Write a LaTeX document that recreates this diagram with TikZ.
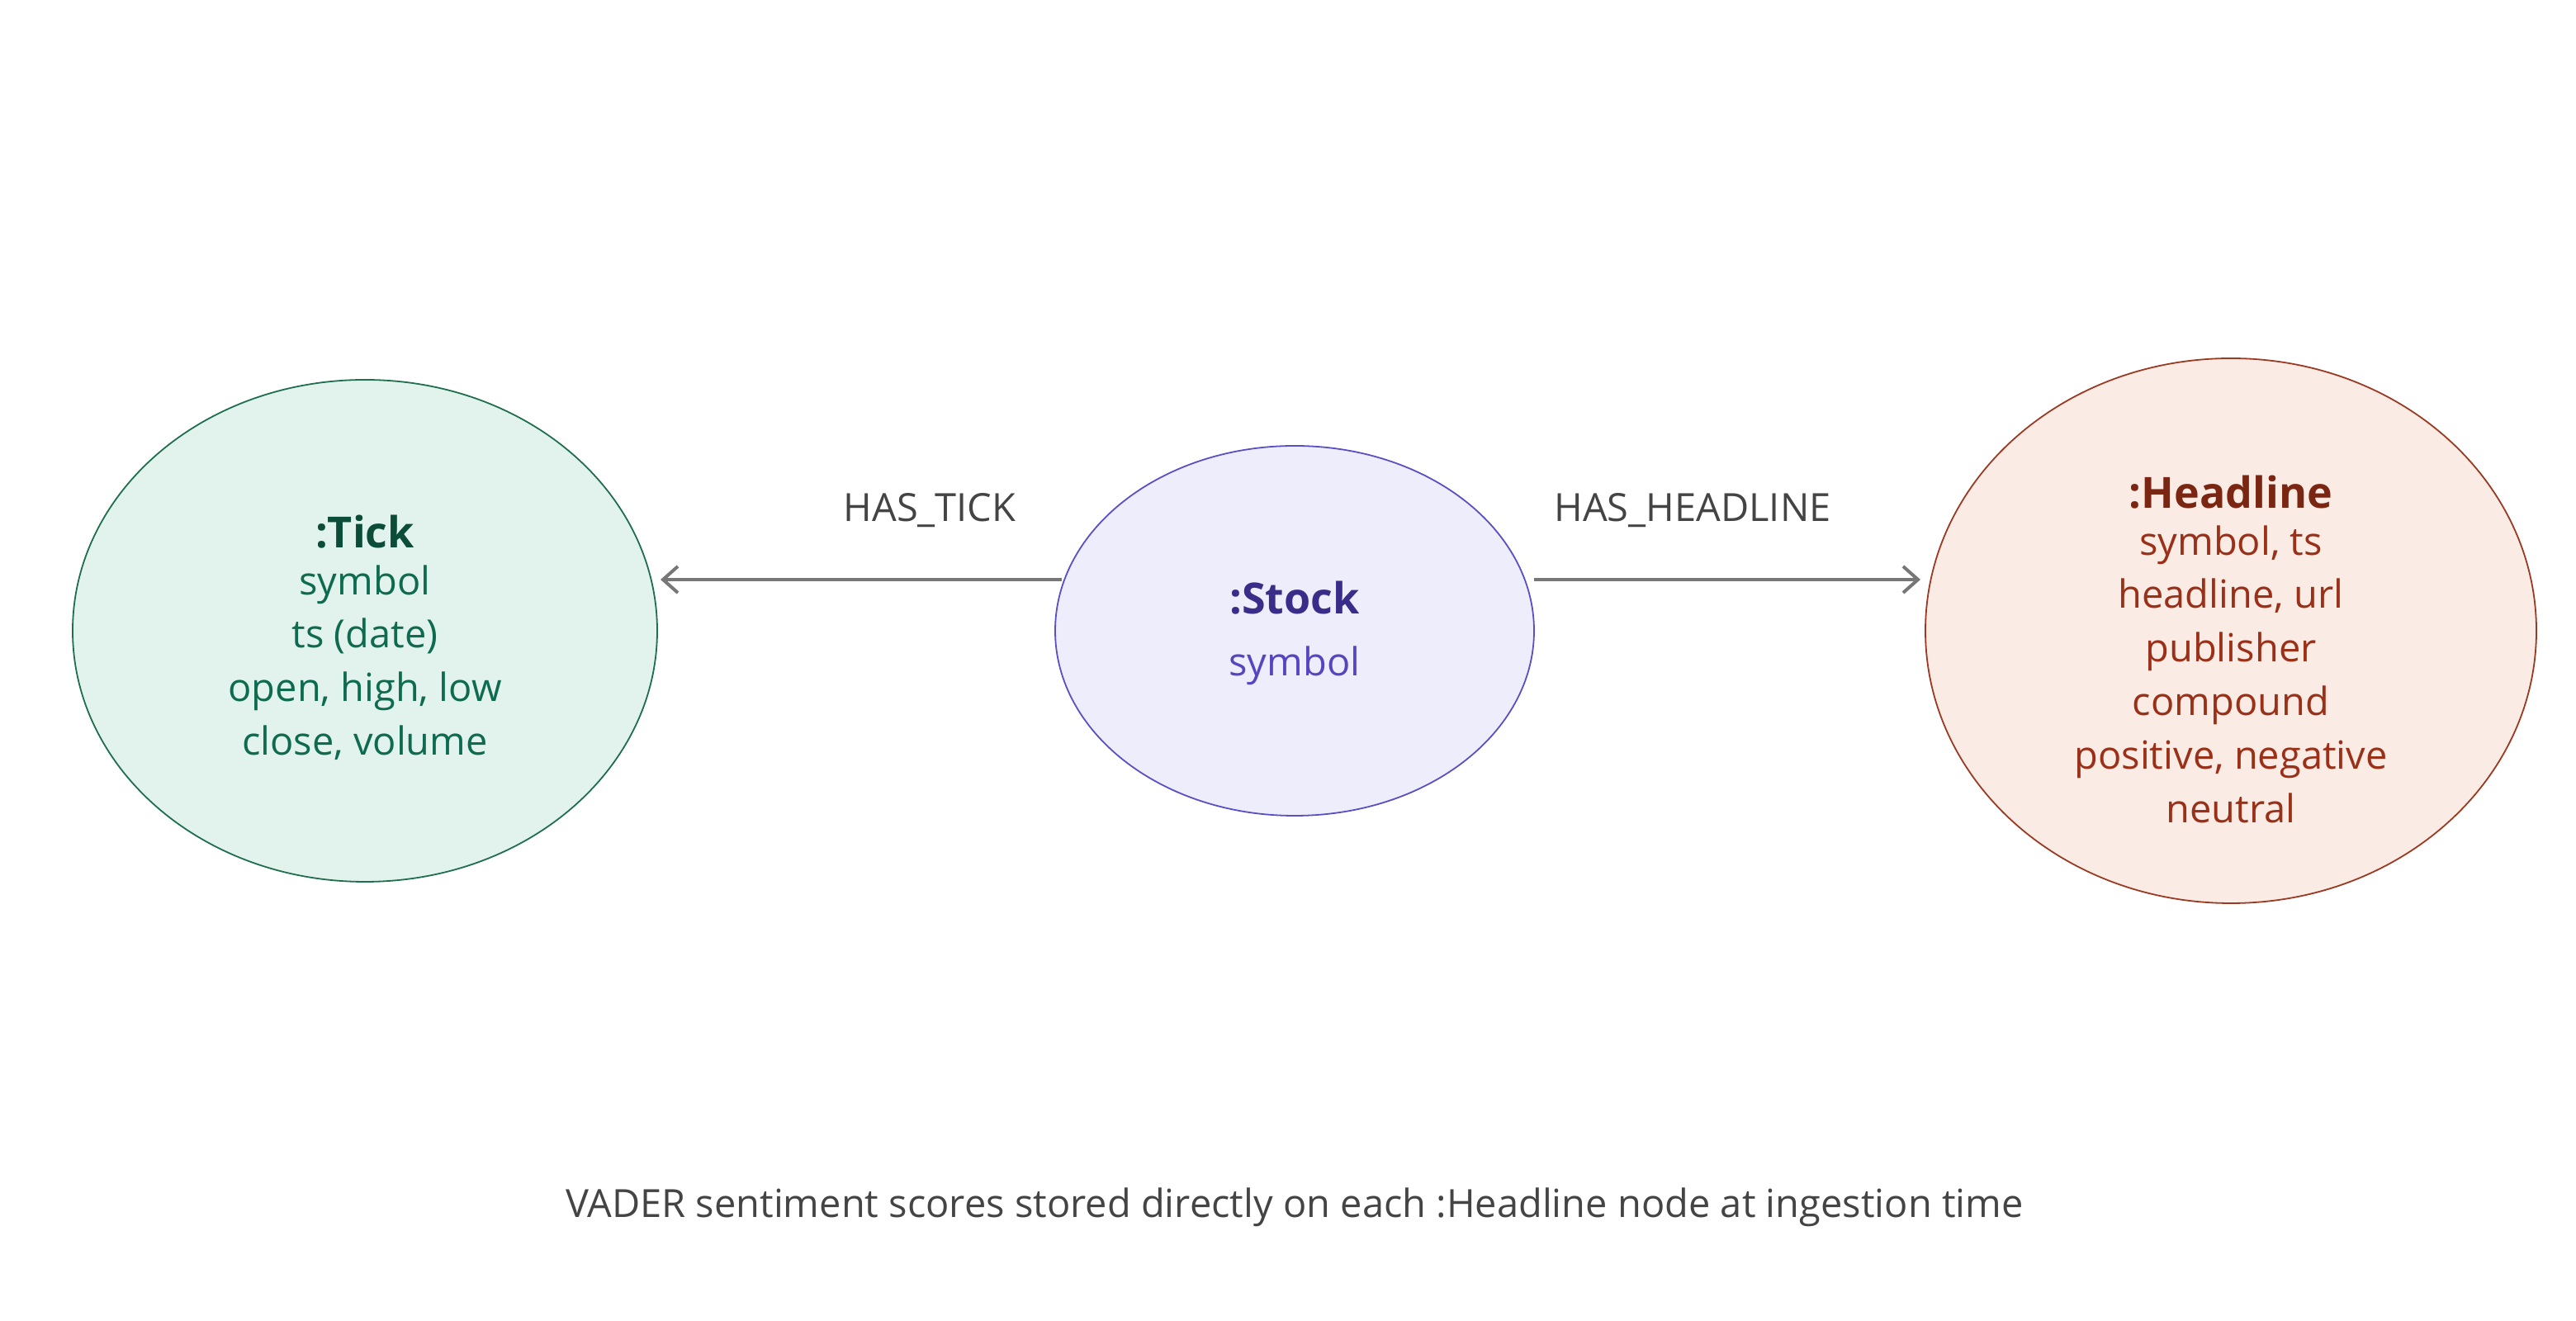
\documentclass[tikz,border=0pt]{standalone}
\usepackage{fontspec}
\setmainfont{Open Sans}
\usetikzlibrary{shapes.geometric,arrows.meta}
\definecolor{tfill}{HTML}{E1F3EC}\definecolor{tline}{HTML}{1F6E4E}\definecolor{ttext}{HTML}{0F6B4F}\definecolor{ttitle}{HTML}{0B4D38}
\definecolor{sfill}{HTML}{EEEDFB}\definecolor{sline}{HTML}{5B4FC4}\definecolor{stext}{HTML}{5546C0}\definecolor{stitle}{HTML}{3A2D8A}
\definecolor{hfill}{HTML}{FAEBE5}\definecolor{hline}{HTML}{9A3A22}\definecolor{htext}{HTML}{9A3018}\definecolor{htitle}{HTML}{7A2612}
\definecolor{edge}{HTML}{777777}\definecolor{lbl}{HTML}{444444}
\tikzset{
 ent/.style={ellipse,draw,line width=0.9pt,inner sep=0pt},
 body/.style={font=\fontsize{23.5}{32.4}\selectfont,align=center,inner sep=0pt},
 ttl/.style={font=\fontsize{26}{30}\selectfont\bfseries,inner sep=0pt},
 rel/.style={draw=edge,line width=2.2pt,-{Straight Barb[length=9pt,width=16pt,line width=2pt]}},
 rlab/.style={font=\fontsize{23.5}{26}\selectfont,text=lbl,inner sep=0pt}
}
\begin{document}
\begin{tikzpicture}[x=1pt,y=1pt]
\useasboundingbox (0,0) rectangle (1560,800);
\node[ent,fill=tfill,draw=tline,minimum width=354pt,minimum height=304pt] (tick) at (221,418) {};
\node[ent,fill=sfill,draw=sline,minimum width=290pt,minimum height=224pt] (stock) at (784,418) {};
\node[ent,fill=hfill,draw=hline,minimum width=370pt,minimum height=330pt] (head) at (1351,418) {};
\node[ttl,text=ttitle] (tickt) at (221,478) {:Tick};
\node[body,text=ttext,anchor=north] (tickb) at (221,458) {symbol\\ts (date)\\open, high, low\\close, volume};
\node[ttl,text=stitle] (stockt) at (784,438) {:Stock};
\node[body,text=stext] (stockb) at (784,397) {symbol};
\node[ttl,text=htitle] (headt) at (1351,502) {:Headline};
\node[body,text=htext,anchor=north] (headb) at (1351,482) {symbol, ts\\headline, url\\publisher\\compound\\positive, negative\\neutral};
\coordinate (a1) at (643,449); \coordinate (a2) at (400,449);
\coordinate (b1) at (929,449); \coordinate (b2) at (1163,449);
\draw[rel] (a1) -- (a2);
\draw[rel] (b1) -- (b2);
\node[rlab] (l1) at (563,491) {HAS\_TICK};
\node[rlab] (l2) at (1025,491) {HAS\_HEADLINE};
\node[rlab] (foot) at (784,69) {VADER sentiment scores stored directly on each :Headline node at ingestion time};
\end{tikzpicture}
\end{document}
